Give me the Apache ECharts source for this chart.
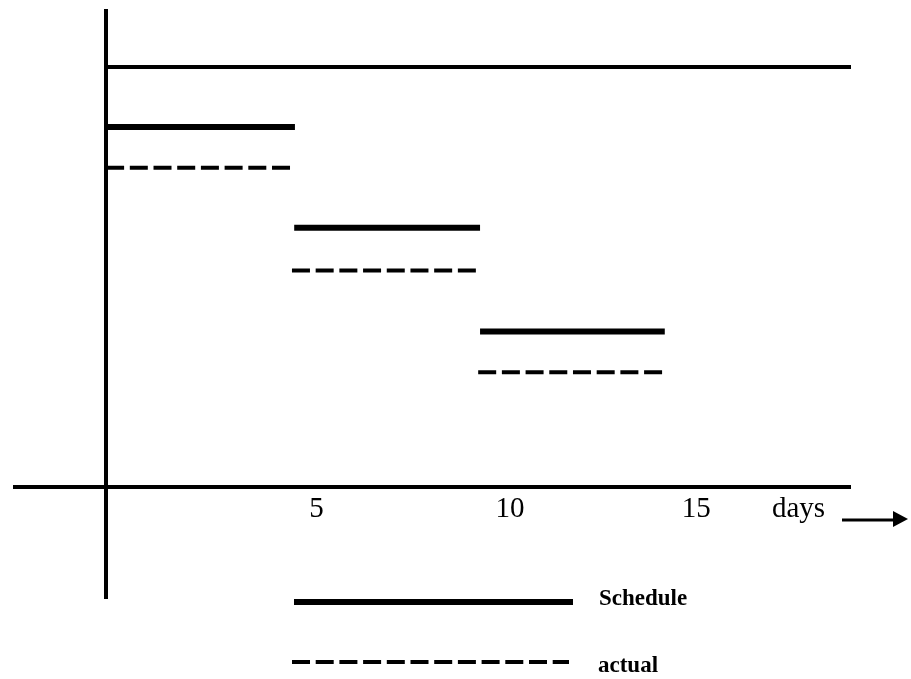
<!DOCTYPE html>
<html><head><meta charset="utf-8">
<script src="https://cdn.jsdelivr.net/npm/echarts@6/dist/echarts.min.js"></script>
<style>html,body{margin:0;padding:0;background:#fff}#c{width:911px;height:679px}</style>
</head><body><div id="c"></div>
<script>
// ---- data ----
const tickLabels = [5, 10, 15];
const axisName = 'days';
const scheduleStart = [0, 5.05, 10.04];
const scheduleEnd   = [5.07, 10.04, 15.0];
const scheduleLevel = [35.4, 25.5, 15.3];
const actualStart = [0, 4.99, 9.99];
const actualEnd   = [4.99, 9.96, 14.95];
const actualLevel = [31.4, 21.3, 11.3];
const topLineStart = 0, topLineEnd = 20, topLineLevel = 41.3;
const legendNames = ['Schedule', 'actual'];

// ---- styles ----
const serif = 'Liberation Serif';
const dash = [18, 5.7];

const series = [];
scheduleStart.forEach((s, i) => {
  series.push({
    name: legendNames[0], type: 'line', symbol: 'none', silent: true,
    itemStyle: { color: '#000' },
    lineStyle: { color: '#000', width: 6, type: 'solid', cap: 'butt' },
    data: [[s, scheduleLevel[i]], [scheduleEnd[i], scheduleLevel[i]]]
  });
});
actualStart.forEach((s, i) => {
  series.push({
    name: legendNames[1], type: 'line', symbol: 'none', silent: true,
    itemStyle: { color: '#000' },
    lineStyle: { color: '#000', width: 4, type: dash, cap: 'butt' },
    data: [[s, actualLevel[i]], [actualEnd[i], actualLevel[i]]]
  });
});
series.push({
  name: 'top', type: 'line', symbol: 'none', silent: true,
  itemStyle: { color: '#000' },
  lineStyle: { color: '#000', width: 4, cap: 'butt' },
  data: [[topLineStart, topLineLevel], [topLineEnd, topLineLevel]]
});

const legendText = (padTop, padBottom, padLeft) => ({
  color: '#000', fontFamily: serif, fontWeight: 'bold', fontSize: 23,
  rich: { t: { color: '#000', fontFamily: serif, fontWeight: 'bold', fontSize: 23, padding: [padTop, 0, padBottom, padLeft] } }
});

const chart = echarts.init(document.getElementById('c'), null, { renderer: 'canvas' });
chart.setOption({
  animation: false,
  backgroundColor: '#fff',
  grid: { left: 13, right: 60, top: 9, bottom: 80, containLabel: false, outerBoundsMode: 'none' },
  xAxis: {
    type: 'value', min: -2.5, max: 20, offset: -112,
    axisLine: { show: true, onZero: false, lineStyle: { color: '#000', width: 4, cap: 'butt' } },
    axisTick: { show: false },
    splitLine: { show: false },
    axisLabel: {
      customValues: tickLabels, color: '#000', fontFamily: serif, fontSize: 29,
      align: 'left', padding: [0, 0, 0, 17], margin: 8
    },
    name: axisName, nameLocation: 'end', nameGap: -79,
    nameTextStyle: { color: '#000', fontFamily: serif, fontSize: 29, verticalAlign: 'top', padding: [8, 0, 0, 0] }
  },
  yAxis: {
    type: 'value', min: -11, max: 47,
    axisLine: { show: true, onZero: true, lineStyle: { color: '#000', width: 4, cap: 'butt' } },
    axisTick: { show: false }, axisLabel: { show: false }, splitLine: { show: false }
  },
  legend: [
    {
      data: [legendNames[0]], left: 291, top: 586, padding: 0, orient: 'vertical',
      itemWidth: 279, itemHeight: 40, selectedMode: false,
      formatter: '{t|{name}}',
      itemStyle: { opacity: 0, borderWidth: 0 },
      lineStyle: { width: 6, type: 'solid', color: '#000' },
      textStyle: legendText(0, 6, 21)
    },
    {
      data: [legendNames[1]], left: 290, top: 646, padding: 0, orient: 'vertical',
      itemWidth: 277, itemHeight: 40, selectedMode: false,
      formatter: '{t|{name}}',
      itemStyle: { opacity: 0, borderWidth: 0 },
      lineStyle: { width: 4, type: dash, color: '#000' },
      textStyle: legendText(8, 0, 24)
    }
  ],
  tooltip: { show: false },
  graphic: [
    { type: 'line', silent: true, shape: { x1: 842, y1: 520, x2: 895, y2: 520 }, style: { stroke: '#000', lineWidth: 3 } },
    { type: 'polygon', silent: true, shape: { points: [[893, 511], [908, 519], [893, 527]] }, style: { fill: '#000' } }
  ],
  series: series
});
</script></body></html>
